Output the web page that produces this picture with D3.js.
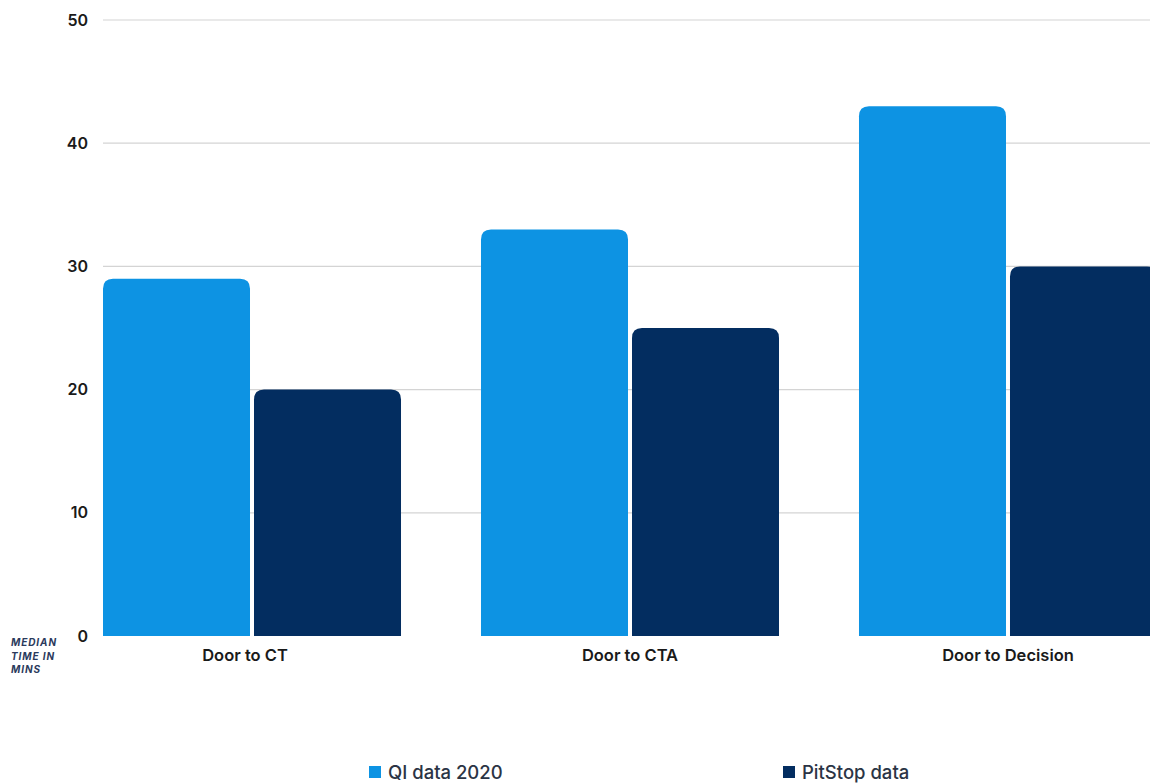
<!DOCTYPE html>
<html>
<head>
<meta charset="utf-8">
<script src="https://cdn.jsdelivr.net/npm/d3@7"></script>
<style>
  html, body { margin: 0; padding: 0; background: #ffffff; }
  svg { display: block; }
</style>
</head>
<body>
<svg id="chart" width="1150" height="784"></svg>
<script>
// Median times (minutes) per pathway step
const categories = ["Door to CT", "Door to CTA", "Door to Decision"];
const seriesNames = ["QI data 2020", "PitStop data"];
const qiData2020 = [29, 33, 43];
const pitStopData = [20, 25, 30];
const yTicks = [0, 10, 20, 30, 40, 50];
const axisTitleLines = ["MEDIAN", "TIME IN", "MINS"];

const colors = { "QI data 2020": "#0d93e3", "PitStop data": "#032d60" };
const rows = categories.map((c, i) => ({
  category: c,
  values: [
    { series: seriesNames[0], value: qiData2020[i] },
    { series: seriesNames[1], value: pitStopData[i] }
  ]
}));

const svg = d3.select("#chart");
const font = "Inter, 'DejaVu Sans', sans-serif";

const y = d3.scaleLinear().domain([0, 50]).range([636, 20]);
const x0 = d3.scaleBand().domain(categories).range([103, 1157]).paddingInner(0.2116).paddingOuter(0);
const x1 = d3.scaleBand().domain(seriesNames).range([0, x0.bandwidth()]).paddingInner(0.0265).paddingOuter(0);

// Horizontal gridlines
svg.append("g")
  .selectAll("line")
  .data(yTicks.filter(t => t > 0))
  .join("line")
  .attr("x1", 103).attr("x2", 1150)
  .attr("y1", d => y(d)).attr("y2", d => y(d))
  .attr("stroke", "#d4d4d4").attr("stroke-width", 1.2);

// Y tick labels
svg.append("g")
  .selectAll("text")
  .data(yTicks)
  .join("text")
  .attr("x", 88)
  .attr("y", d => y(d))
  .attr("dy", "0.35em")
  .attr("text-anchor", "end")
  .attr("font-family", font)
  .attr("font-weight", 600)
  .attr("font-size", 16)
  .attr("fill", "#1a1a1a")
  .text(d => d);

// Bar shape with rounded top corners only
function topRounded(xp, yp, w, h, r) {
  r = Math.min(r, w / 2, h);
  return `M${xp},${yp + h}V${yp + r}Q${xp},${yp} ${xp + r},${yp}H${xp + w - r}Q${xp + w},${yp} ${xp + w},${yp + r}V${yp + h}Z`;
}

const groups = svg.append("g")
  .selectAll("g")
  .data(rows)
  .join("g")
  .attr("transform", d => `translate(${x0(d.category)},0)`);

groups.selectAll("path")
  .data(d => d.values)
  .join("path")
  .attr("fill", d => colors[d.series])
  .attr("d", d => topRounded(x1(d.series), y(d.value), x1.bandwidth(), y(0) - y(d.value), 10));

// Category labels
svg.append("g")
  .selectAll("text")
  .data(categories)
  .join("text")
  .attr("x", (d, i) => x0(d) + x0.bandwidth() / 2 - (i === 0 ? 7 : 0))
  .attr("y", 661)
  .attr("text-anchor", "middle")
  .attr("font-family", font)
  .attr("font-weight", 600)
  .attr("font-size", 16.5)
  .attr("fill", "#1a1a1a")
  .text(d => d);

// Axis title
svg.append("text")
  .attr("font-family", font)
  .attr("font-style", "italic")
  .attr("font-weight", 700)
  .attr("font-size", 10)
  .attr("letter-spacing", 0.9)
  .attr("fill", "#2b3a5c")
  .selectAll("tspan")
  .data(axisTitleLines)
  .join("tspan")
  .attr("x", 11)
  .attr("y", (d, i) => 646 + i * 13.5)
  .text(d => d);

// Legend
const legendX = [369, 783];
const legend = svg.append("g")
  .selectAll("g")
  .data(seriesNames)
  .join("g")
  .attr("transform", (d, i) => `translate(${legendX[i]},766)`);
legend.append("rect")
  .attr("width", 12).attr("height", 12)
  .attr("fill", d => colors[d]);
legend.append("text")
  .attr("x", 19)
  .attr("y", 13)
  .attr("font-family", font)
  .attr("font-weight", 500)
  .attr("font-size", 18.5)
  .attr("fill", "#2b3445")
  .text(d => d);
</script>
</body>
</html>
